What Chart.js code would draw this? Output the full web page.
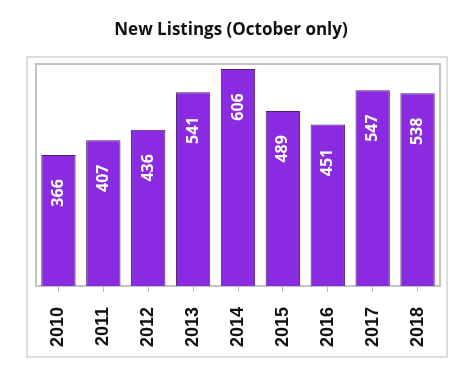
<!DOCTYPE html>
<html>
<head>
    <meta charset="UTF-8">
    <title>New Listings (October only)</title>
    <script src="https://cdn.jsdelivr.net/npm/chart.js"></script>
    <style>
        html, body {
            margin: 0;
            padding: 0;
            background: #fff;
        }
        #wrap {
            width: 475px;
            height: 382px;
        }
    </style>
</head>
<body>
    <div id="wrap"><canvas id="chart" width="475" height="382"></canvas></div>
    <script>
    const years = ['2010', '2011', '2012', '2013', '2014', '2015', '2016', '2017', '2018'];
    const listings = [366, 407, 436, 541, 606, 489, 451, 547, 538];
    const yMax = 620;
    const chartTitle = 'New Listings (October only)';

    // title, frames around the plot + the outer box
    const frames = {
        id: 'frames',
        beforeDraw(chart) {
            const ctx = chart.ctx;
            const a = chart.chartArea;
            ctx.save();
            ctx.fillStyle = '#111';
            ctx.font = 'bold 17px "Open Sans", sans-serif';
            ctx.textAlign = 'center';
            ctx.textBaseline = 'middle';
            ctx.fillText(chartTitle, 231, 30);
            ctx.strokeStyle = '#d2d2d2';
            ctx.lineWidth = 1.5;
            ctx.strokeRect(27, 57, 420, 300);
            ctx.strokeStyle = '#c4c4c4';
            ctx.lineWidth = 2;
            ctx.strokeRect(a.left, a.top, a.right - a.left, a.bottom - a.top);
            ctx.restore();
        }
    };

    // rotated value labels inside the bars
    const barLabels = {
        id: 'barLabels',
        afterDatasetsDraw(chart) {
            const ctx = chart.ctx;
            const meta = chart.getDatasetMeta(0);
            ctx.save();
            ctx.fillStyle = '#ffffff';
            ctx.font = 'bold 16px "Open Sans", sans-serif';
            ctx.textAlign = 'center';
            ctx.textBaseline = 'middle';
            meta.data.forEach((bar, i) => {
                ctx.save();
                ctx.translate(bar.x, bar.y + 38);
                ctx.rotate(-Math.PI / 2);
                ctx.fillText(String(listings[i]), 0, 0);
                ctx.restore();
            });
            ctx.restore();
        }
    };

    new Chart(document.getElementById('chart'), {
        type: 'bar',
        data: {
            labels: years,
            datasets: [{
                label: 'New Listings',
                data: listings,
                backgroundColor: '#8a2be2',
                borderColor: '#4a1f72',
                borderWidth: 1,
                categoryPercentage: 1,
                barPercentage: 0.765
            }]
        },
        options: {
            responsive: false,
            animation: false,
            layout: {
                padding: { left: 36, right: 35, top: 64, bottom: 20 }
            },
            plugins: {
                legend: { display: false },
                tooltip: { enabled: false },
                title: { display: false }
            },
            scales: {
                x: {
                    grid: {
                        offset: false,
                        drawOnChartArea: false,
                        drawTicks: true,
                        tickLength: 6,
                        color: '#bbb'
                    },
                    border: { display: false },
                    ticks: {
                        minRotation: 90,
                        maxRotation: 90,
                        padding: 15,
                        color: '#111',
                        font: { family: '"Liberation Sans", Arial, sans-serif', size: 18, weight: 'bold' }
                    }
                },
                y: {
                    display: false,
                    min: 0,
                    max: yMax
                }
            }
        },
        plugins: [frames, barLabels]
    });
    </script>
</body>
</html>
